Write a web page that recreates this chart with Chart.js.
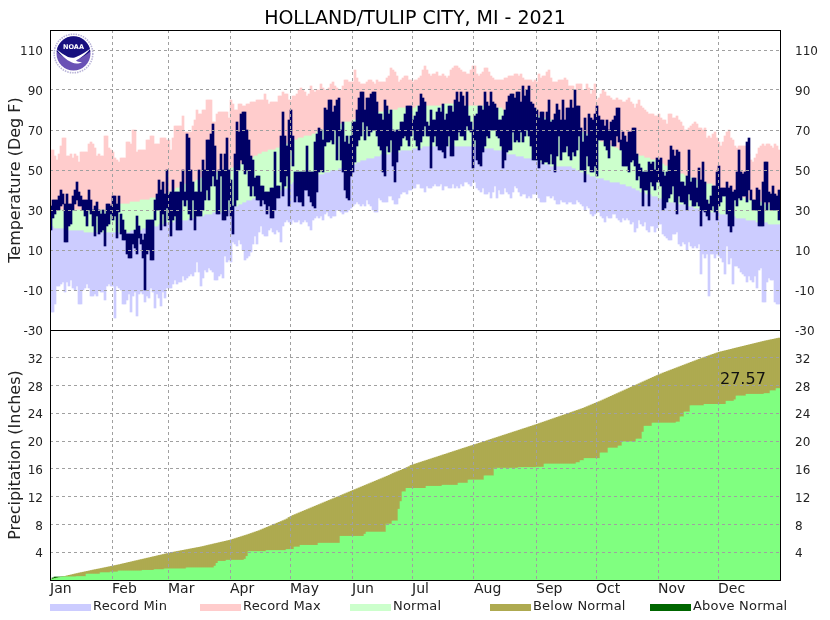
<!DOCTYPE html>
<html><head><meta charset="utf-8">
<script src="https://cdn.jsdelivr.net/npm/chart.js@4/dist/chart.umd.min.js"></script>
<style>
html,body{margin:0;padding:0;background:#fff}
#wrap{position:relative;width:830px;height:620px;overflow:hidden;font-family:"DejaVu Sans",sans-serif}
canvas{position:absolute;left:0;top:0}
#logo{position:absolute;left:53px;top:33px;width:41px;height:41px}
.sw{position:absolute;top:604px;width:41px;height:7px}
.lb{position:absolute;top:597px;font-size:13px;letter-spacing:.2px;line-height:17px;color:#222;white-space:nowrap}
</style></head><body>
<div id="wrap">
<canvas id="c" width="830" height="620"></canvas>
<svg id="logo" viewBox="0 0 41 41">
<circle cx="20.5" cy="20.5" r="19.3" fill="#fff" stroke="#b9b4d8" stroke-width="1.6" stroke-dasharray="1.5 1"/>
<circle cx="20.5" cy="20.5" r="17" fill="#6a52b5"/>
<path d="M3.6 18.5A17 17 0 0 1 37.4 18.5C33 22 28 25 24 27C22 25.5 19 25 17 27C12 25 7 22 3.6 18.5Z" fill="#17107f"/>
<path d="M3.2 16C8 22 13 27 19 29.5C22 31 26 31 29 29C26 29 24 28.5 23 27.5C28 25 34 20 38 15C34 18 28 22 23 24C20 25.2 18 25 15 24C11 22 7 19 3.2 16Z" fill="#fff"/>
<text x="20.5" y="15.5" text-anchor="middle" font-family="DejaVu Sans" font-size="6.5" font-weight="bold" fill="#fff">NOAA</text>
</svg>
<div id="legend"></div>
</div>
<script>
const TITLE = "HOLLAND/TULIP CITY, MI - 2021";
const monthLabels = ["Jan","Feb","Mar","Apr","May","Jun","Jul","Aug","Sep","Oct","Nov","Dec"];
const monthStarts = [0,31,59,90,120,151,181,212,243,273,304,334];
const tempTicks = [-30,-10,10,30,50,70,90,110];
const precipTicks = [4,8,12,16,20,24,28,32];
const precipTotalLabel = "27.57";

const recordMax = [
60,60,57,55,58,62,66,66,57,57,
58,56,58,57,54,59,59,59,59,63,
64,63,61,57,58,57,57,67,67,61,
60,59,56,55,54,56,56,56,64,64,
63,70,70,59,60,60,60,60,65,65,
67,67,63,63,63,66,66,66,65,65,
60,66,72,72,72,72,77,69,69,69,
69,72,75,80,78,78,80,80,85,85,
85,74,74,78,79,79,79,79,79,76,
85,83,80,80,83,83,82,82,83,83,
84,84,84,85,85,85,85,88,85,83,
84,84,84,84,87,87,89,88,88,85,
85,87,87,88,90,91,90,89,87,88,
92,90,89,90,90,93,91,90,90,91,
93,94,92,91,90,90,92,95,95,94,
94,94,100,96,94,93,93,93,94,95,
95,94,93,95,94,94,94,94,96,97,
101,100,99,97,94,95,96,97,97,95,
95,94,95,95,96,97,100,102,100,98,
97,98,98,99,97,97,98,97,96,97,
100,101,102,102,101,100,99,99,98,98,
100,102,102,98,97,98,99,101,101,99,
97,96,95,95,95,95,95,96,96,97,
97,97,98,98,97,98,96,95,95,95,
95,94,95,94,98,96,97,97,99,100,
96,94,94,94,95,95,95,96,95,92,
92,92,90,93,93,93,90,90,93,91,
88,90,93,85,86,88,90,89,87,87,
86,85,85,86,85,85,84,84,85,86,
84,83,81,83,85,82,81,80,79,78,
78,78,77,77,78,76,75,75,73,78,
78,76,76,77,75,74,72,70,70,71,
72,73,74,73,71,71,70,71,66,67,
66,68,69,66,64,62,64,67,69,70,
66,65,62,61,62,62,62,62,61,58,
55,54,56,58,61,62,63,62,63,63,
62,61,63,62,60];

const recordMin = [
-21,-21,-17,-8,-8,-7,-6,-11,-6,-8,
-5,-9,-10,-8,-17,-17,-10,-9,-7,-9,
-13,-13,-12,-13,-10,-11,-11,-15,-8,-7,
-8,-8,-24,-8,-9,-10,-17,-17,-15,-12,
-21,-13,-11,-23,-12,-11,-12,-16,-13,-14,
-9,-11,-19,-12,-14,-18,-11,-14,-9,-9,
-9,-7,-5,-7,-6,-6,-3,-5,-4,-3,
-2,-3,-1,4,-1,-8,-4,0,-1,1,
0,-1,-5,-5,-3,-2,-4,7,4,5,
4,14,13,12,15,13,10,5,6,7,
9,13,17,13,19,22,18,17,17,20,
21,19,18,20,19,14,22,24,25,24,
23,25,24,24,25,23,24,25,24,22,
20,25,26,27,26,27,25,28,29,27,
26,27,27,30,30,29,28,29,29,30,
31,32,33,34,33,32,33,32,35,33,
32,30,29,29,36,35,34,34,34,37,
37,35,33,33,36,38,39,39,38,40,
40,41,41,43,43,41,41,39,42,41,
41,42,43,42,42,43,40,42,42,41,
41,43,41,42,41,43,42,44,44,43,
42,44,44,41,40,39,41,38,38,39,
36,39,42,36,40,38,38,41,39,38,
36,39,42,41,39,37,38,38,36,37,
36,38,38,38,36,34,34,34,37,37,
36,37,35,33,33,35,34,34,33,34,
34,33,33,35,34,33,32,30,32,31,
28,27,28,29,29,27,26,24,27,26,
26,28,28,26,25,24,26,25,26,25,
23,24,19,21,25,23,22,24,20,19,
22,22,19,21,23,23,18,17,16,15,
15,18,18,19,13,12,14,13,10,14,
12,11,12,11,13,-2,8,6,8,-13,
8,8,6,8,7,6,4,-2,12,3,
6,-7,2,2,1,-1,-2,-3,-6,-3,
-5,-6,-3,-9,0,1,-16,-16,-6,-4,
-5,-5,-16,-17,-17];

const normalMax = [
31,31,31,31,30,30,30,30,30,30,
30,30,30,30,30,30,30,30,30,30,
30,30,30,30,30,30,30,30,31,31,
31,31,32,32,33,33,33,33,33,33,
34,34,34,34,34,35,35,35,35,35,
36,36,36,36,37,37,37,38,38,39,
39,40,40,41,41,42,42,43,43,44,
44,44,44,45,45,46,46,47,47,47,
48,48,48,49,49,49,50,50,50,50,
51,51,52,52,53,53,54,54,54,55,
55,56,57,57,58,58,59,59,59,60,
60,60,60,61,61,62,62,63,63,64,
64,65,65,65,66,66,66,67,67,67,
67,68,68,69,69,70,70,70,71,71,
71,72,72,72,73,73,73,74,74,74,
74,75,75,76,76,76,77,77,77,78,
78,78,78,79,79,79,79,80,80,80,
80,80,80,80,81,81,81,81,81,81,
81,81,81,82,82,82,82,82,82,82,
82,82,82,82,82,82,82,83,83,83,
83,83,82,82,82,82,82,82,82,82,
82,82,82,82,82,82,82,82,82,82,
81,81,81,81,81,81,80,80,80,80,
80,79,79,79,79,78,78,78,78,78,
77,77,77,77,77,76,76,76,76,75,
75,75,74,74,74,73,73,73,72,72,
72,71,71,70,70,69,69,68,68,67,
67,66,66,65,65,64,64,63,63,63,
62,62,61,61,60,60,60,59,59,59,
59,58,58,58,57,57,57,56,56,56,
55,55,55,54,54,53,53,52,52,51,
51,50,50,49,49,48,48,47,47,47,
46,46,45,45,45,44,44,44,43,43,
43,42,42,41,41,40,40,40,39,39,
39,38,38,38,37,37,36,36,36,35,
35,35,34,34,34,34,34,33,33,33,
33,33,33,33,33];

const normalMin = [
22,22,21,21,21,21,21,21,20,20,
20,20,20,20,20,20,20,19,19,19,
19,19,19,19,19,19,19,19,19,19,
19,19,19,19,19,19,19,19,19,19,
20,20,20,20,20,20,21,21,21,21,
22,22,22,22,23,23,23,24,24,24,
24,24,25,25,25,25,25,25,25,26,
26,26,26,27,27,27,27,28,28,28,
28,29,29,29,29,29,30,30,30,30,
31,31,32,32,33,33,34,34,35,35,
35,36,36,37,37,37,37,37,38,38,
38,38,38,39,39,40,40,41,41,42,
43,44,44,44,45,45,45,46,46,47,
47,47,47,47,48,48,48,49,49,49,
50,50,50,50,51,51,51,51,52,52,
52,53,53,54,54,55,55,55,56,56,
56,56,57,57,57,58,58,58,58,58,
59,59,59,59,59,60,60,60,60,60,
60,61,61,61,61,61,62,62,62,62,
62,62,62,62,62,62,62,62,62,62,
62,62,62,62,62,62,62,62,62,62,
62,62,62,61,61,61,61,61,61,61,
61,61,60,60,60,60,60,59,59,58,
58,58,58,57,57,57,57,56,56,56,
56,55,55,55,54,54,54,53,53,53,
52,52,52,52,52,52,52,52,52,52,
52,51,51,50,50,49,49,48,48,48,
47,47,47,46,46,46,46,45,45,45,
44,44,44,44,44,43,43,43,42,42,
42,41,41,40,40,39,39,39,38,38,
38,37,37,37,36,36,35,35,35,34,
34,34,34,33,33,33,33,33,32,32,
32,32,31,31,31,30,30,30,30,29,
29,29,29,29,29,28,28,28,28,27,
27,27,27,26,26,26,26,26,25,25,
25,25,25,24,24,24,24,24,24,23,
23,23,23,23,23];

const dailyHigh = [
32,35,35,35,37,40,38,33,38,33,
33,37,40,44,39,37,35,35,35,40,
35,30,32,34,30,28,30,28,33,33,
32,37,37,33,37,28,25,20,18,18,
18,18,20,27,22,18,15,18,25,25,
25,25,35,38,45,40,44,38,50,38,
39,45,39,39,39,44,50,39,68,66,
50,44,39,39,50,39,55,50,65,65,
68,73,62,45,50,58,50,58,66,50,
45,32,58,74,69,78,79,79,70,65,
57,55,46,47,47,42,42,39,39,39,
41,41,59,42,42,67,79,67,62,75,
80,67,49,49,49,49,49,49,62,49,
49,49,64,68,71,70,65,81,80,85,
85,79,82,85,86,70,74,64,67,63,
67,74,74,80,86,89,89,80,86,86,
88,89,89,84,78,78,75,85,82,78,
80,70,69,70,70,74,74,78,82,82,
82,75,77,79,82,88,86,84,74,72,
80,75,75,79,81,79,83,75,78,82,
82,79,85,89,84,89,87,82,89,77,
74,70,77,78,82,82,80,89,84,82,
89,84,83,81,75,75,77,80,84,87,
88,88,86,89,89,84,92,87,90,92,
84,83,81,80,76,79,79,75,79,85,
74,75,78,83,80,75,85,75,81,81,
85,81,90,82,82,71,64,76,67,78,
76,75,78,82,77,75,75,72,75,70,
74,75,77,81,81,65,69,67,64,69,
69,71,71,58,53,51,49,49,49,54,
53,54,50,56,55,56,49,47,49,55,
62,60,57,60,59,44,44,42,47,60,
44,46,46,41,51,45,54,44,35,33,
37,42,42,49,52,41,41,41,44,41,
42,39,40,49,60,49,48,49,64,66,
40,35,35,41,40,32,44,54,54,39,
38,42,38,37,40];

const dailyLow = [
20,26,28,30,30,32,33,14,14,22,
23,30,33,35,32,32,30,27,22,30,
28,22,17,27,18,19,20,12,22,23,
28,25,27,16,29,18,15,15,8,6,
6,13,11,8,16,13,6,-10,8,10,
5,5,25,30,30,20,28,22,31,25,
17,25,27,20,20,20,35,32,35,28,
25,35,20,27,27,27,30,35,40,35,
42,47,42,28,28,47,25,25,27,35,
27,18,32,35,50,55,53,48,50,42,
37,42,37,35,35,32,35,33,28,32,
26,26,30,36,36,44,37,42,47,32,
60,52,34,37,34,34,32,40,40,37,
34,32,31,39,49,50,49,62,64,64,
65,63,70,55,67,55,49,40,36,35,
47,49,54,62,65,67,74,65,72,67,
69,70,70,67,62,60,49,47,62,59,
65,52,44,54,60,62,66,67,65,62,
67,70,65,62,60,64,67,72,67,67,
51,64,67,62,60,60,59,56,62,67,
57,57,65,65,69,67,67,65,72,70,
69,51,65,55,53,52,59,62,67,66,
70,70,70,67,66,62,51,55,59,60,
60,69,64,65,64,69,64,67,70,67,
62,55,55,55,51,55,53,54,54,53,
58,53,49,57,67,55,59,59,62,57,
55,59,57,60,67,50,50,44,57,52,
49,49,52,47,65,65,65,62,60,56,
65,62,62,67,64,60,52,52,52,49,
54,55,52,45,47,41,32,40,40,32,
44,42,40,44,44,42,30,31,34,36,
38,42,34,28,37,34,34,33,30,38,
35,32,32,34,32,22,30,29,27,25,
30,32,29,25,32,34,37,37,28,22,
19,22,35,32,36,35,37,37,34,40,
35,30,30,30,22,22,22,34,30,34,
30,30,30,30,25];

const normalPrecip = [
.07,.13,.2,.27,.33,.4,.47,.53,.6,.67,
.73,.8,.87,.93,1,1.06,1.12,1.18,1.24,1.3,
1.37,1.43,1.49,1.55,1.6,1.66,1.72,1.78,1.84,1.9,
1.96,2.02,2.08,2.14,2.2,2.27,2.34,2.4,2.47,2.54,
2.6,2.67,2.74,2.8,2.87,2.94,3,3.07,3.14,3.2,
3.27,3.34,3.4,3.47,3.54,3.6,3.67,3.74,3.8,3.87,
3.94,4,4.05,4.11,4.16,4.22,4.27,4.33,4.38,4.44,
4.49,4.55,4.6,4.66,4.71,4.77,4.83,4.9,4.97,5.04,
5.1,5.17,5.24,5.3,5.37,5.44,5.5,5.57,5.64,5.7,
5.78,5.87,5.96,6.05,6.14,6.23,6.32,6.41,6.5,6.6,
6.7,6.8,6.9,7,7.1,7.22,7.34,7.46,7.58,7.7,
7.82,7.94,8.06,8.18,8.3,8.42,8.54,8.66,8.8,9,
9.15,9.3,9.42,9.54,9.66,9.78,9.9,10.02,10.14,10.26,
10.38,10.5,10.62,10.74,10.86,10.98,11.1,11.22,11.34,11.46,
11.58,11.7,11.82,11.94,12.06,12.18,12.3,12.42,12.54,12.66,
12.78,12.9,13.02,13.14,13.26,13.38,13.5,13.62,13.74,13.86,
13.98,14.1,14.22,14.34,14.46,14.58,14.7,14.82,14.94,15.06,
15.2,15.34,15.46,15.58,15.7,15.8,15.94,16.08,16.2,16.32,
16.5,16.6,16.69,16.78,16.88,16.97,17.07,17.16,17.25,17.35,
17.44,17.54,17.63,17.72,17.82,17.91,18.01,18.1,18.19,18.29,
18.38,18.48,18.57,18.66,18.76,18.85,18.95,19.04,19.13,19.23,
19.32,19.41,19.5,19.59,19.69,19.78,19.88,19.97,20.06,20.16,
20.25,20.35,20.44,20.53,20.63,20.72,20.82,20.91,21,21.1,
21.19,21.29,21.38,21.47,21.57,21.66,21.76,21.85,21.94,22.04,
22.13,22.23,22.32,22.42,22.52,22.62,22.72,22.82,22.92,23.02,
23.12,23.22,23.32,23.42,23.52,23.62,23.72,23.82,23.92,24.02,
24.12,24.22,24.32,24.42,24.52,24.62,24.72,24.84,24.96,25.08,
25.2,25.32,25.44,25.56,25.68,25.8,25.93,26.06,26.19,26.32,
26.45,26.58,26.71,26.84,26.97,27.1,27.23,27.36,27.49,27.62,
27.75,27.88,28,28.13,28.26,28.4,28.53,28.66,28.79,28.92,
29.05,29.18,29.31,29.44,29.56,29.68,29.8,29.91,30.02,30.13,
30.24,30.35,30.46,30.57,30.68,30.79,30.9,31.01,31.12,31.23,
31.34,31.45,31.56,31.67,31.78,31.89,32,32.1,32.2,32.3,
32.4,32.5,32.6,32.7,32.8,32.87,32.94,33.01,33.08,33.15,
33.22,33.3,33.37,33.44,33.51,33.58,33.65,33.72,33.79,33.86,
33.93,34,34.07,34.14,34.21,34.28,34.35,34.42,34.48,34.54,
34.6,34.66,34.72,34.78,34.84];

const actualPrecip = [
.05,.3,.43,.43,.43,.43,.45,.45,.45,.45,
.45,.45,.45,.5,.5,.5,.5,.5,.85,.85,
.85,.85,.85,.85,.85,1.05,1.05,1.05,1.05,1.05,
1.15,1.15,1.15,1.15,1.3,1.3,1.3,1.3,1.3,1.3,
1.3,1.3,1.3,1.3,1.3,1.3,1.4,1.4,1.4,1.4,
1.4,1.4,1.5,1.5,1.5,1.5,1.5,1.6,1.6,1.6,
1.6,1.6,1.6,1.6,1.6,1.6,1.6,1.6,1.75,1.75,
1.75,1.75,1.75,1.75,1.75,1.75,1.75,1.75,1.75,1.75,
1.75,1.75,2,2.4,2.7,2.7,2.7,2.7,2.85,2.85,
2.85,2.85,2.85,2.85,2.85,2.85,2.85,3,3.4,4.1,
4.1,4.1,4.1,4.1,4.1,4.1,4.1,4.1,4.25,4.25,
4.25,4.25,4.25,4.25,4.25,4.25,4.25,4.25,4.4,4.4,
4.4,4.4,4.75,4.75,4.75,5,5,5,5,5,
5,5,5,5,5.3,5.3,5.3,5.3,5.3,5.3,
5.3,5.3,5.3,5.3,5.3,6.3,6.3,6.3,6.3,6.3,
6.3,6.3,6.3,6.3,6.3,6.3,6.3,6.6,6.9,6.9,
6.9,6.9,6.9,6.9,6.9,6.9,6.9,6.9,8.05,8.05,
8.05,8.5,8.5,8.5,10.2,11.3,12.7,12.7,13.2,13.2,
13.2,13.2,13.2,13.2,13.2,13.2,13.2,13.2,13.5,13.5,
13.5,13.5,13.5,13.5,13.5,13.5,13.65,13.65,13.65,13.65,
13.65,13.65,13.65,13.65,13.95,13.95,13.95,13.95,13.95,14.4,
14.4,14.4,14.4,14.4,14.4,14.4,14.4,15,15,15,
15,15,16.1,16.1,16.1,16.1,16.1,16.1,16.1,16.1,
16.1,16.1,16.1,16.1,16.2,16.2,16.2,16.2,16.2,16.2,
16.2,16.2,16.2,16.25,16.25,16.25,16.25,16.7,16.7,16.7,
16.7,16.7,16.7,16.7,16.7,16.7,16.7,16.7,16.7,16.7,
16.7,16.7,16.7,16.9,16.9,17.2,17.2,17.5,17.5,17.5,
17.5,17.5,17.5,17.5,17.5,18.3,18.3,18.3,18.3,19,
19,19,19,19,19.3,19.3,19.9,19.9,19.9,19.9,
19.9,19.9,19.9,20.3,20.3,20.3,21.3,22.15,22.15,22.15,
22.15,22.6,22.6,22.6,22.6,22.6,22.6,22.6,22.6,22.6,
22.6,22.6,22.6,22.75,22.75,23.5,23.5,24.2,24.2,24.2,
25.1,25.1,25.1,25.1,25.1,25.1,25.1,25.3,25.3,25.3,
25.3,25.3,25.3,25.3,25.3,25.3,25.3,25.3,25.75,25.75,
25.75,25.75,25.95,26.5,26.5,26.5,26.5,26.5,26.75,26.75,
26.75,26.75,26.75,26.75,26.75,26.75,26.75,26.85,26.85,26.85,
27.25,27.25,27.25,27.57,27.57];

const legendItems = [
  ["Record Min","#ccccff",50],["Record Max","#ffcccc",200],["Normal","#ccffcc",350],
  ["Below Normal","#aeaa50",490],["Above Normal","#006600",650]];
const FONT = '"DejaVu Sans", sans-serif';
const GRID = "#a0a0a0";
const GRID_DASH = [3,3];

const lg = document.getElementById("legend");
legendItems.forEach(([t,c,x])=>{
  const s=document.createElement("div");s.className="sw";s.style.left=x+"px";s.style.background=c;lg.appendChild(s);
  const l=document.createElement("div");l.className="lb";l.style.left=(x+43)+"px";l.textContent=t;lg.appendChild(l);
});

const floatBars=(lo,hi)=>lo.map((v,i)=>({x:i+0.5,y:[v,hi[i]]}));
const zeroBars=a=>a.map((v,i)=>({x:i+0.5,y:[0,v]}));
const barOpts={grouped:false,barThickness:2,borderWidth:0,borderSkipped:false,minBarLength:0};

const pinTicks=list=>axis=>{axis.ticks=list.map(v=>({value:v}));};
const yAxis=(min,max,ticks,stack,weight,w,pos,grid,title)=>({
  type:"linear",position:pos,stack,stackWeight:weight,min,max,
  afterBuildTicks:pinTicks(ticks),
  afterFit:a=>{a.width=w;},
  border:{display:false,dash:GRID_DASH},
  grid:grid?{display:true,color:GRID,drawTicks:false,z:1}:{display:false},
  ticks:{autoSkip:false,padding:7,labelOffset:2,color:"#222",font:{family:FONT,size:12},callback:v=>String(v)},
  title:title?{display:true,text:title,color:"#222",font:{family:FONT,size:16},padding:{top:6,bottom:0}}:{display:false}
});

const frame={id:"frame",afterDraw(ch){
  const c=ch.ctx,a=ch.chartArea,mid=ch.scales.yT.bottom;
  c.save();c.strokeStyle="#000";c.lineWidth=1;
  c.strokeRect(a.left+.5,a.top+.5,a.right-a.left,a.bottom-a.top);
  c.beginPath();c.moveTo(a.left,Math.round(mid)+.5);c.lineTo(a.right,Math.round(mid)+.5);c.stroke();
  c.fillStyle="#111";c.font="16px "+FONT;c.textAlign="left";c.textBaseline="middle";
  c.fillText(precipTotalLabel,720,380);
  c.restore();
}};

new Chart(document.getElementById("c"),{
  type:"bar",
  plugins:[frame],
  data:{datasets:[
    {label:"Observed Range",data:floatBars(dailyLow,dailyHigh),backgroundColor:"#000066",yAxisID:"yT",...barOpts},
    {label:"Normal",data:floatBars(normalMin,normalMax),backgroundColor:"#ccffcc",yAxisID:"yT",...barOpts},
    {label:"Record Min",data:floatBars(recordMin,normalMin),backgroundColor:"#ccccff",yAxisID:"yT",...barOpts},
    {label:"Record Max",data:floatBars(normalMax,recordMax),backgroundColor:"#ffcccc",yAxisID:"yT",...barOpts},
    {label:"Observed Precipitation",data:zeroBars(actualPrecip.map((v,i)=>Math.min(v,normalPrecip[i]))),backgroundColor:"#80ff80",yAxisID:"yB",...barOpts},
    {label:"Below Normal",data:zeroBars(normalPrecip),backgroundColor:"#aeaa50",yAxisID:"yB",...barOpts},
    {label:"Above Normal",data:zeroBars(actualPrecip),backgroundColor:"#006600",yAxisID:"yB",...barOpts}
  ]},
  options:{
    responsive:false,animation:false,devicePixelRatio:1,
    layout:{padding:0},
    events:[],
    plugins:{
      legend:{display:false},tooltip:{enabled:false},
      title:{display:true,text:TITLE,color:"#000",font:{family:FONT,size:19,weight:"normal",lineHeight:1},padding:{top:10,bottom:1}}
    },
    scales:{
      x:{type:"linear",min:0,max:365,offset:false,position:"bottom",
        afterBuildTicks:pinTicks(monthStarts),
        afterFit:a=>{a.height=40;},
        border:{display:false,dash:GRID_DASH},
        grid:{offset:false,color:GRID,drawTicks:false,z:1},
        ticks:{autoSkip:false,maxRotation:0,minRotation:0,align:"start",padding:1,color:"#222",font:{family:FONT,size:14},
          callback:v=>monthLabels[monthStarts.indexOf(v)]}},
      yB:yAxis(0,36,precipTicks,"L",5,50,"left",true,"Precipitation (Inches)"),
      yT:yAxis(-30,120,tempTicks,"L",6,50,"left",true,"Temperature (Deg F)"),
      yTR:yAxis(-30,120,tempTicks,"R",6,50,"right",false,null),
      yBR:yAxis(0,36,precipTicks,"R",5,50,"right",false,null)
    }
  }
});
</script>
</body></html>
